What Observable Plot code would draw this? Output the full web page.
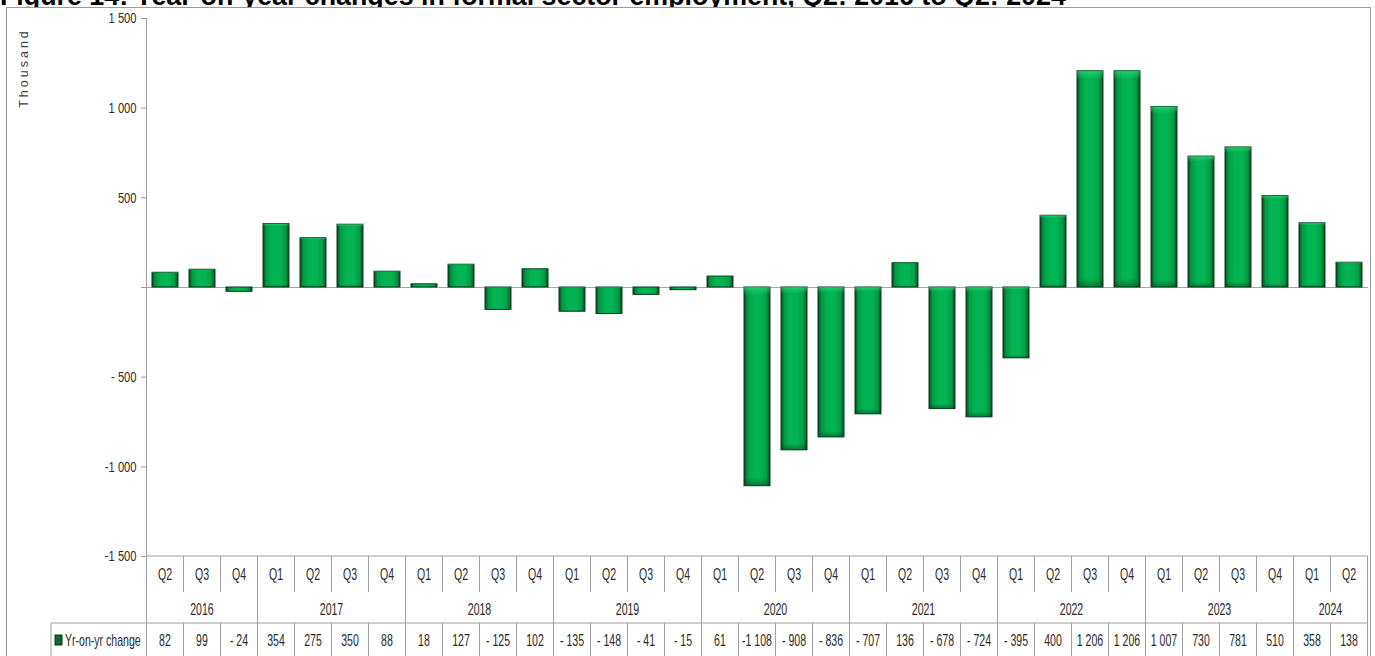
<!DOCTYPE html>
<html>
<head>
<meta charset="utf-8">
<script src="https://cdn.jsdelivr.net/npm/d3@7"></script>
<script src="https://cdn.jsdelivr.net/npm/@observablehq/plot@0.6"></script>
<style>
  html, body { margin: 0; padding: 0; background: #fff; }
  #wrap { position: relative; width: 1375px; height: 656px; overflow: hidden; background: #fff; }
  #title { position: absolute; left: 0; top: -17px; font: bold 26.8px/26px "Liberation Sans", Arial, sans-serif; color: #000; white-space: nowrap; }
  #frame { position: absolute; left: 6px; top: 7px; width: 1365px; height: 660px; border: 1px solid #9a9a9a; box-sizing: border-box; background: #fff; }
  #chart { position: absolute; left: 0; top: 0; }
  #ylab { position: absolute; left: 24px; top: 68px; transform: translate(-50%, -50%) rotate(-90deg); font: 12.5px "Liberation Sans", Arial, sans-serif; letter-spacing: 3px; color: #404040; white-space: nowrap; }
</style>
</head>
<body>
<div id="wrap">
  <div id="title">Figure 14: Year-on-year changes in formal sector employment, Q2: 2016 to Q2: 2024</div>
  <div id="frame"></div>
  <div id="chart"></div>
  <div id="ylab">Thousand</div>
</div>
<script>
const quarters = ["Q2","Q3","Q4",
  "Q1","Q2","Q3","Q4",
  "Q1","Q2","Q3","Q4",
  "Q1","Q2","Q3","Q4",
  "Q1","Q2","Q3","Q4",
  "Q1","Q2","Q3","Q4",
  "Q1","Q2","Q3","Q4",
  "Q1","Q2","Q3","Q4",
  "Q1","Q2"];
const years = ["2016","2016","2016",
  "2017","2017","2017","2017",
  "2018","2018","2018","2018",
  "2019","2019","2019","2019",
  "2020","2020","2020","2020",
  "2021","2021","2021","2021",
  "2022","2022","2022","2022",
  "2023","2023","2023","2023",
  "2024","2024"];
const values = [82, 99, -24,
  354, 275, 350, 88,
  18, 127, -125, 102,
  -135, -148, -41, -15,
  61, -1108, -908, -836,
  -707, 136, -678, -724,
  -395, 400, 1206, 1206,
  1007, 730, 781, 510,
  358, 138];
const valueLabels = ["82","99","- 24",
  "354","275","350","88",
  "18","127","- 125","102",
  "- 135","- 148","- 41","- 15",
  "61","-1 108","- 908","- 836",
  "- 707","136","- 678","- 724",
  "- 395","400","1 206","1 206",
  "1 007","730","781","510",
  "358","138"];
const seriesName = "Yr-on-yr change";
const yTicks = [-1500, -1000, -500, 0, 500, 1000, 1500];
const yTickLabels = ["-1 500", "-1 000", "- 500", "", "500", "1 000", "1 500"];

const keys = quarters.map((q, i) => years[i] + " " + q);
const data = keys.map((k, i) => ({key: k, q: quarters[i], year: years[i], value: values[i], label: valueLabels[i]}));

const FONT = '"Liberation Sans", Arial, sans-serif';

const chart = Plot.plot({
  width: 1375,
  height: 656,
  marginTop: 18,
  marginBottom: 100,
  marginLeft: 146,
  marginRight: 7,
  style: {fontFamily: FONT, fontSize: "15.5px", color: "#333", background: "transparent", overflow: "visible"},
  x: {domain: keys, paddingInner: 0.3, paddingOuter: 0.15, axis: null},
  y: {domain: [-1500, 1500], label: null},
  marks: [
    Plot.ruleY([0], {stroke: "#a6a6a6", strokeWidth: 1.2}),
    Plot.barY(data, {x: "key", y: "value", fill: "url(#barGrad)", stroke: "#0a3d1e", strokeWidth: 1}),
    Plot.barY(data, {x: "key", y: "value", fill: "url(#barShade)", stroke: "none"}),
    Plot.axisY({ticks: yTicks, tickFormat: d => yTickLabels[yTicks.indexOf(d)], tickSize: 5, tickPadding: 5, stroke: "#999", fill: "#2b2b2b", label: null})
  ]
});
document.getElementById("chart").appendChild(chart);

// gradients for bars
const svg = d3.select(chart);
const defs = svg.insert("defs", ":first-child");
const g = defs.append("linearGradient").attr("id", "barGrad").attr("x1", "0").attr("x2", "1").attr("y1", "0").attr("y2", "0");
[["0%", "#07461f"], ["13%", "#049a44"], ["35%", "#00b451"], ["65%", "#00b451"], ["87%", "#049a44"], ["100%", "#07461f"]]
  .forEach(([o, c]) => g.append("stop").attr("offset", o).attr("stop-color", c));
const g2 = defs.append("linearGradient").attr("id", "barShade").attr("x1", "0").attr("x2", "0").attr("y1", "0").attr("y2", "1");
[["0%", "#3ee58a", 0.55], ["4%", "#3ee58a", 0.0], ["96%", "#03401c", 0.0], ["100%", "#03401c", 0.5]]
  .forEach(([o, c, op]) => g2.append("stop").attr("offset", o).attr("stop-color", c).attr("stop-opacity", op));

// narrow the (Calibri-like) texts horizontally around their anchor
function narrow(el, k) {
  const x = +el.getAttribute("x") || 0, y = +el.getAttribute("y") || 0;
  const t = el.getAttribute("transform") || "";
  el.setAttribute("transform", `${t} translate(${x},${y}) scale(${k},1) translate(${-x},${-y})`);
}
svg.selectAll("text").each(function() { narrow(this, 0.72); });

// axis line and data table, using the plot's own scales
const xs = chart.scale("x"), ys = chart.scale("y");
const bw = xs.bandwidth;
const centers = keys.map(k => xs.apply(k) + bw / 2);
const step = centers[1] - centers[0];
const left = centers[0] - step / 2, right = centers[centers.length - 1] + step / 2;
const yBot = ys.apply(-1500), yTop = ys.apply(1500);
const rowQ = yBot + 36, rowY = yBot + 67, rowEnd = 700;
const layer = svg.append("g").attr("stroke", "#a0a0a0").attr("fill", "none").attr("stroke-width", 1);
const line = (x1, y1, x2, y2) => layer.append("line").attr("x1", x1).attr("y1", y1).attr("x2", x2).attr("y2", y2);
line(left, yTop, left, rowY);
line(left, yBot, right, yBot);
line(right, yBot, right, rowEnd);
line(51, rowY, right, rowY);
line(51, rowY, 51, rowEnd);
for (let i = 0; i < keys.length - 1; i++) {
  const bx = (centers[i] + centers[i + 1]) / 2;
  line(bx, yBot, bx, years[i] === years[i + 1] ? rowQ : rowY);
  line(bx, rowY, bx, rowEnd);
}
line(left, rowY, left, rowEnd);

const tl = svg.append("g").attr("font-family", FONT).attr("font-size", 16).attr("fill", "#2b2b2b").attr("text-anchor", "middle");
data.forEach((d, i) => {
  tl.append("text").attr("x", centers[i]).attr("y", yBot + 18).attr("dy", "0.35em").text(d.q);
  tl.append("text").attr("x", centers[i]).attr("y", rowY + 17).attr("dy", "0.35em").text(d.label);
});
const yearGroups = d3.groups(data.map((d, i) => ({...d, i})), d => d.year);
yearGroups.forEach(([yr, arr]) => {
  const a = centers[arr[0].i] - step / 2, b = centers[arr[arr.length - 1].i] + step / 2;
  tl.append("text").attr("x", (a + b) / 2).attr("y", yBot + 53).attr("dy", "0.35em").text(yr);
});
svg.append("rect").attr("x", 55).attr("y", rowY + 12).attr("width", 7).attr("height", 10).attr("fill", "#0b6b2e").attr("stroke", "#063d1c");
tl.append("text").attr("x", 65).attr("y", rowY + 17).attr("dy", "0.35em").attr("text-anchor", "start").text(seriesName);
tl.selectAll("text").each(function() { narrow(this, 0.66); });
</script>
</body>
</html>
